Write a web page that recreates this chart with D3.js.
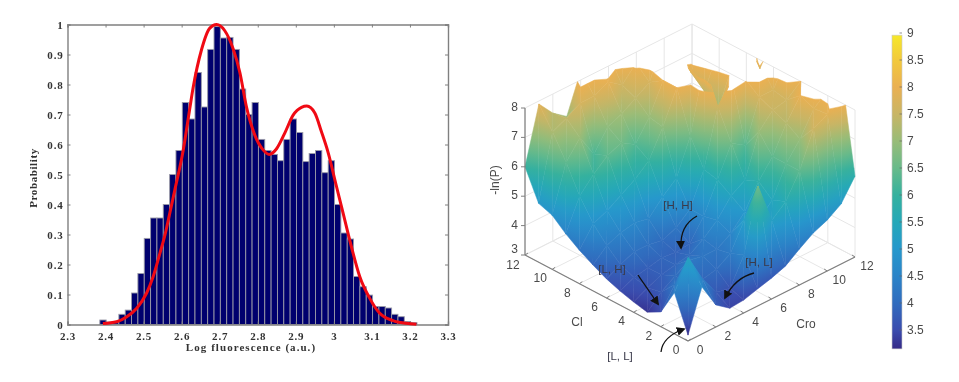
<!DOCTYPE html>
<html>
<head>
<meta charset="utf-8">
<script src="https://cdn.jsdelivr.net/npm/d3@7"></script>
<style>
  html, body { margin: 0; padding: 0; background: #fff; }
  svg { display: block; filter: blur(0.55px); }
  .hist { filter: blur(0.3px); }
  .hist text { font-family: "Liberation Serif", serif; font-weight: bold; font-size: 11px; fill: #333; }
  .surf text { font-family: "Liberation Sans", sans-serif; font-size: 12px; fill: #4a4a4a; }
</style>
</head>
<body>
<script>
// left panel: histogram values, one per bin
const binStart = 2.385;
const binWidth = 0.01667;
const histValues = [0.015, 0.008, 0.006, 0.034, 0.048, 0.105, 0.17, 0.287, 0.355, 0.355, 0.40,
    0.50, 0.58, 0.74, 0.685, 0.84, 0.725, 0.917, 0.993, 0.955, 0.957, 0.917, 0.785, 0.70, 0.74,
    0.617, 0.58, 0.567, 0.546, 0.617, 0.685, 0.64, 0.543, 0.57, 0.58, 0.506, 0.546, 0.40, 0.305,
    0.285, 0.16, 0.126, 0.098, 0.06, 0.06, 0.055, 0.034, 0.026, 0.01, 0.006];

// red fit curve
const fitX = [2.393, 2.429, 2.455, 2.482, 2.508, 2.525, 2.543, 2.556, 2.569, 2.582, 2.604, 2.622, 2.63, 2.652,
    2.674, 2.692, 2.713, 2.735, 2.753, 2.77, 2.792, 2.814, 2.83, 2.849, 2.871, 2.893, 2.915, 2.929,
    2.95, 2.967, 2.985, 3.005, 3.024, 3.046, 3.068, 3.094, 3.12, 3.155, 3.19, 3.217];
const fitY = [0.003, 0.009, 0.025, 0.054, 0.105, 0.159, 0.238, 0.298, 0.372, 0.448, 0.58, 0.725, 0.788, 0.915,
    0.988, 1.0, 0.98, 0.92, 0.84, 0.727, 0.632, 0.582, 0.567, 0.585, 0.638, 0.698, 0.724, 0.728,
    0.705, 0.644, 0.573, 0.47, 0.373, 0.26, 0.16, 0.088, 0.038, 0.013, 0.004, 0.001];

const histXTicks = [2.3, 2.4, 2.5, 2.6, 2.7, 2.8, 2.9, 3, 3.1, 3.2, 3.3];
const histYTicks = [0, 0.1, 0.2, 0.3, 0.4, 0.5, 0.6, 0.7, 0.8, 0.9, 1];

// right panel: -ln(P), rows are Cl = 0..12, columns are Cro = 0..12
const landscape = [
    [3.2, 4.6, 3.75, 3.4, 3.44, 3.58, 3.71, 3.88, 4.22, 4.53, 4.73, 5.04, 5.75],
    [4.4, 5.35, 4.4, 3.7, 3.6, 4.5, 6.6, 5.2, 5.6, 6.4, 7.6, 7.85, 9.0],
    [3.5, 4.2, 4.0, 3.9, 4.0, 4.3, 5.2, 4.9, 5.4, 6.4, 7.0, 7.8, 8.2],
    [3.25, 3.7, 4.0, 4.3, 4.2, 4.2, 4.5, 5.0, 5.8, 6.4, 7.3, 8.0, 8.6],
    [3.35, 3.6, 3.8, 3.9, 4.0, 4.3, 4.7, 5.3, 5.6, 7.0, 7.5, 7.6, 8.0],
    [3.48, 3.7, 3.8, 3.9, 3.85, 3.9, 4.6, 5.6, 6.6, 6.3, 7.7, 7.7, 8.6],
    [3.65, 3.9, 4.1, 4.1, 4.0, 4.2, 4.6, 5.7, 7.6, 8.3, 8.05, 8.4, 9.0],
    [3.88, 4.3, 4.5, 4.6, 4.5, 5.0, 5.4, 6.6, 8.8, 7.0, 8.3, 9.0, 7.7],
    [4.14, 4.8, 5.0, 5.3, 5.6, 6.0, 6.9, 8.0, 8.6, 7.4, 8.6, 9.0, 9.0],
    [4.45, 5.5, 6.0, 6.4, 6.6, 6.3, 7.0, 8.0, 8.8, 7.8, 9.0, 9.0, 9.0],
    [4.84, 6.4, 7.0, 6.2, 6.9, 7.1, 7.4, 7.7, 9.0, 8.6, 9.0, 9.0, 9.0],
    [5.0, 7.2, 7.42, 7.7, 7.7, 7.95, 7.6, 8.1, 9.0, 9.0, 9.0, 9.0, 9.0],
    [6.0, 7.9, 7.35, 7.0, 8.3, 8.3, 8.4, 8.8, 9.0, 9.0, 9.0, 9.0, 9.0]
];
const gridTicks = [0, 2, 4, 6, 8, 10, 12];
const zTicks = [3, 4, 5, 6, 7, 8];
const barTicks = [3.5, 4, 4.5, 5, 5.5, 6, 6.5, 7, 7.5, 8, 8.5, 9];
const colorVals = [3.15, 3.5, 4, 4.5, 5, 5.5, 6, 6.5, 7, 7.5, 8, 8.5, 9];
const colorHex = ["#352a87", "#3a4cae", "#306cbe", "#2b84c8", "#2698cc", "#25a8b8", "#35b19e",
    "#68ba8a", "#98bc78", "#c8b565", "#eab052", "#f2c93c", "#f6e82a"];

const svg = d3.select("body").append("svg").attr("width", 959).attr("height", 382);
const defs = svg.append("defs");

// ---------- histogram ----------
const hist = svg.append("g").attr("class", "hist");
const x = d3.scaleLinear().domain([2.3, 3.3]).range([67.5, 448]);
const y = d3.scaleLinear().domain([0, 1]).range([324.5, 24.5]);

hist.selectAll("rect.bin")
    .data(histValues)
    .join("rect")
    .attr("class", "bin")
    .attr("x", (d, i) => x(binStart + i * binWidth))
    .attr("width", x(binStart + binWidth) - x(binStart))
    .attr("y", d => y(d))
    .attr("height", d => y(0) - y(d))
    .attr("fill", "#00006e")
    .attr("stroke", "#9a9aa8")
    .attr("stroke-width", 0.9);

// frame with ticks on all four sides
const xAxis = hist.append("g").attr("transform", `translate(0,${y(0)})`)
    .call(d3.axisBottom(x).tickValues(histXTicks).tickSize(-3).tickPadding(8).tickFormat(d3.format("")));
const yAxis = hist.append("g").attr("transform", `translate(${x(2.3)},0)`)
    .call(d3.axisLeft(y).tickValues(histYTicks).tickSize(-3).tickPadding(4).tickFormat(d3.format("")));
const xTop = hist.append("g").attr("transform", `translate(0,${y(1)})`)
    .call(d3.axisTop(x).tickValues(histXTicks).tickSize(-3).tickFormat(""));
const yRight = hist.append("g").attr("transform", `translate(${x(3.3)},0)`)
    .call(d3.axisRight(y).tickValues(histYTicks).tickSize(-3).tickFormat(""));
[xAxis, yAxis, xTop, yRight].forEach(a => {
    a.selectAll("path").attr("stroke", "#808080").attr("stroke-width", 1.4);
    a.selectAll("line").attr("stroke", "#808080");
    a.selectAll("text").attr("fill", "#333").style("font-family", "Liberation Serif").style("font-weight", "bold")
        .style("font-size", "11px").style("letter-spacing", "0.8px");
});

const fitLine = d3.line().x((d, i) => x(fitX[i])).y(d => y(d)).curve(d3.curveMonotoneX);
hist.append("path")
    .attr("d", fitLine(fitY))
    .attr("fill", "none")
    .attr("stroke", "#f00a14")
    .attr("stroke-width", 3);

hist.append("text").attr("x", 251).attr("y", 351).attr("text-anchor", "middle").style("letter-spacing", "1.05px").text("Log fluorescence (a.u.)");
hist.append("text").attr("transform", "translate(37,178) rotate(-90)").attr("text-anchor", "middle").style("letter-spacing", "0.6px").text("Probability");

// ---------- surface ----------
const surf = svg.append("g").attr("class", "surf");
const color = d3.scaleLinear().domain(colorVals).range(colorHex).interpolate(d3.interpolateRgb);
const zScale = d3.scaleLinear().domain([3, 8]).range([0, -147]);
const croX = d3.scaleLinear().domain([0, 12]).range([688, 855]);
const croY = d3.scaleLinear().domain([0, 12]).range([341, 257]);
const clX = d3.scaleLinear().domain([0, 12]).range([0, -163]);
const clY = d3.scaleLinear().domain([0, 12]).range([0, -86]);

// orthographic projection of (Cl, Cro, z) onto the page
function project(l, c, z) {
    return [croX(c) + clX(l), croY(c) + clY(l) + zScale(z)];
}

// back walls and floor
const gridColor = "#e6e6e6";
function segment(a, b, col, w) {
    surf.append("line").attr("x1", a[0]).attr("y1", a[1]).attr("x2", b[0]).attr("y2", b[1])
        .attr("stroke", col).attr("stroke-width", w || 1);
}
gridTicks.forEach(t => {
    segment(project(12, t, 3), project(12, t, 8), gridColor);
    segment(project(t, 12, 3), project(t, 12, 8), gridColor);
    segment(project(t, 0, 3), project(t, 12, 3), gridColor);
    segment(project(0, t, 3), project(12, t, 3), gridColor);
});
zTicks.forEach(z => {
    segment(project(0, 12, z), project(12, 12, z), gridColor);
    segment(project(12, 0, z), project(12, 12, z), gridColor);
});

// keep the part of a triangle at or below the top of the z axis
function clipTop(tri, top) {
    const out = [];
    tri.forEach((a, i) => {
        const b = tri[(i + 1) % tri.length];
        if (a[2] <= top) out.push(a);
        if ((a[2] <= top) !== (b[2] <= top)) {
            const t = (top - a[2]) / (b[2] - a[2]);
            out.push([a[0] + (b[0] - a[0]) * t, a[1] + (b[1] - a[1]) * t, top]);
        }
    });
    return out;
}

let gradId = 0;
function drawTriangle(verts) {
    const poly = clipTop(verts, 8);
    if (poly.length < 3) return;
    const pts = poly.map(v => project(v[0], v[1], v[2]));
    const zs = poly.map(v => v[2]);
    const zMin = d3.min(zs), zMax = d3.max(zs);
    // height is linear on the flat facet, so a linear gradient on screen gives the exact colouring
    const P = verts.map(v => project(v[0], v[1], v[2]));
    const ux = P[1][0] - P[0][0], uy = P[1][1] - P[0][1], vx = P[2][0] - P[0][0], vy = P[2][1] - P[0][1];
    const du = verts[1][2] - verts[0][2], dv = verts[2][2] - verts[0][2];
    const det = ux * vy - uy * vx;
    let paint;
    if (Math.abs(det) < 1e-6 || zMax - zMin < 1e-3) {
        paint = color((zMin + zMax) / 2);
    } else {
        const a = (du * vy - dv * uy) / det, b = (dv * ux - du * vx) / det;
        const n = a * a + b * b;
        const lo = pts[zs.indexOf(zMin)];
        const id = "tri" + (gradId++);
        const g = defs.append("linearGradient").attr("id", id).attr("gradientUnits", "userSpaceOnUse")
            .attr("x1", lo[0]).attr("y1", lo[1])
            .attr("x2", lo[0] + a / n * (zMax - zMin)).attr("y2", lo[1] + b / n * (zMax - zMin));
        d3.range(7).forEach(i => {
            g.append("stop").attr("offset", i / 6).attr("stop-color", color(zMin + (zMax - zMin) * i / 6));
        });
        paint = `url(#${id})`;
    }
    surf.append("path")
        .attr("d", "M" + pts.map(p => p.join(",")).join("L") + "Z")
        .attr("fill", paint).attr("stroke", paint).attr("stroke-width", 0.5).attr("stroke-linejoin", "round");
}

// painter's order, far corner first
const cells = [];
d3.range(12).forEach(l => d3.range(12).forEach(c => cells.push([l, c])));
cells.sort((p, q) => (q[0] + q[1]) - (p[0] + p[1]));
cells.forEach(([l, c]) => {
    const v = (a, b) => [a, b, landscape[a][b]];
    drawTriangle([v(l, c), v(l + 1, c), v(l + 1, c + 1)]);
    drawTriangle([v(l, c), v(l, c + 1), v(l + 1, c + 1)]);
});

// axes of the 3d box
const axisColor = "#7f7f7f";
segment(project(0, 0, 3), project(12, 0, 3), axisColor, 1.2);
segment(project(0, 0, 3), project(0, 12, 3), axisColor, 1.2);
segment(project(12, 0, 3), project(12, 0, 8), axisColor, 1.2);
gridTicks.forEach(t => {
    const a = project(t, 0, 3), b = project(0, t, 3);
    segment(a, [a[0] + 3, a[1] - 2], axisColor);
    segment(b, [b[0] - 3, b[1] - 2], axisColor);
    surf.append("text").attr("x", a[0] - 12).attr("y", a[1] + (t === 12 ? 14 : 13)).attr("text-anchor", "middle").text(t);
    surf.append("text").attr("x", b[0] + 12).attr("y", b[1] + 13).attr("text-anchor", "middle").text(t);
});
zTicks.forEach(z => {
    const p = project(12, 0, z);
    segment(p, [p[0] - 4, p[1]], axisColor);
    surf.append("text").attr("x", p[0] - 7).attr("y", p[1] + (z === 3 ? -2 : 3)).attr("text-anchor", "end").text(z);
});
surf.append("text").attr("x", 577).attr("y", 326).attr("text-anchor", "middle").text("Cl");
surf.append("text").attr("x", 806).attr("y", 328).attr("text-anchor", "middle").text("Cro");
surf.append("text").attr("transform", "translate(499,180) rotate(-90)").attr("text-anchor", "middle").text("-ln(P)");

// arrows and state labels
defs.append("marker").attr("id", "head").attr("viewBox", "0 0 10 10").attr("refX", 8).attr("refY", 5)
    .attr("markerWidth", 9).attr("markerHeight", 9).attr("markerUnits", "userSpaceOnUse").attr("orient", "auto")
    .append("path").attr("d", "M0,0L10,5L0,10Z").attr("fill", "#111");
const arrowPaths = ["M697,216C686,222 680,232 681,248", "M638,275L658,304", "M754,273C742,276 732,284 725,298", "M661,352C662,342 670,334 684,329"];
const stateNames = ["[H, H]", "[L, H]", "[H, L]", "[L, L]"];
const stateX = [678, 612, 759, 620];
const stateY = [209, 273, 266, 360];
arrowPaths.forEach(d => {
    surf.append("path").attr("d", d).attr("fill", "none").attr("stroke", "#111").attr("stroke-width", 1.3).attr("marker-end", "url(#head)");
});
stateNames.forEach((s, i) => {
    surf.append("text").attr("x", stateX[i]).attr("y", stateY[i]).attr("text-anchor", "middle").style("font-size", "11.5px").style("fill", "#3a3a4a").text(s);
});

// colour bar
const barScale = d3.scaleLinear().domain([8, 4]).range([87, 303]);
const barGrad = defs.append("linearGradient").attr("id", "bar").attr("x1", 0).attr("y1", 1).attr("x2", 0).attr("y2", 0);
colorVals.forEach((v, i) => {
    barGrad.append("stop").attr("offset", (v - 3.15) / (8.96 - 3.15)).attr("stop-color", colorHex[i]);
});
const bar = svg.append("g").attr("class", "surf");
bar.append("rect").attr("x", 892).attr("width", 10).attr("y", barScale(8.96)).attr("height", barScale(3.15) - barScale(8.96))
    .attr("fill", "url(#bar)").attr("stroke", "#c8c8c8").attr("stroke-width", 0.6);
barTicks.forEach(v => {
    bar.append("line").attr("x1", 899.5).attr("x2", 902).attr("y1", barScale(v)).attr("y2", barScale(v)).attr("stroke", "#666").attr("stroke-width", 0.7);
    bar.append("text").attr("x", 907).attr("y", barScale(v) + 4).text(v);
});
</script>
</body>
</html>
